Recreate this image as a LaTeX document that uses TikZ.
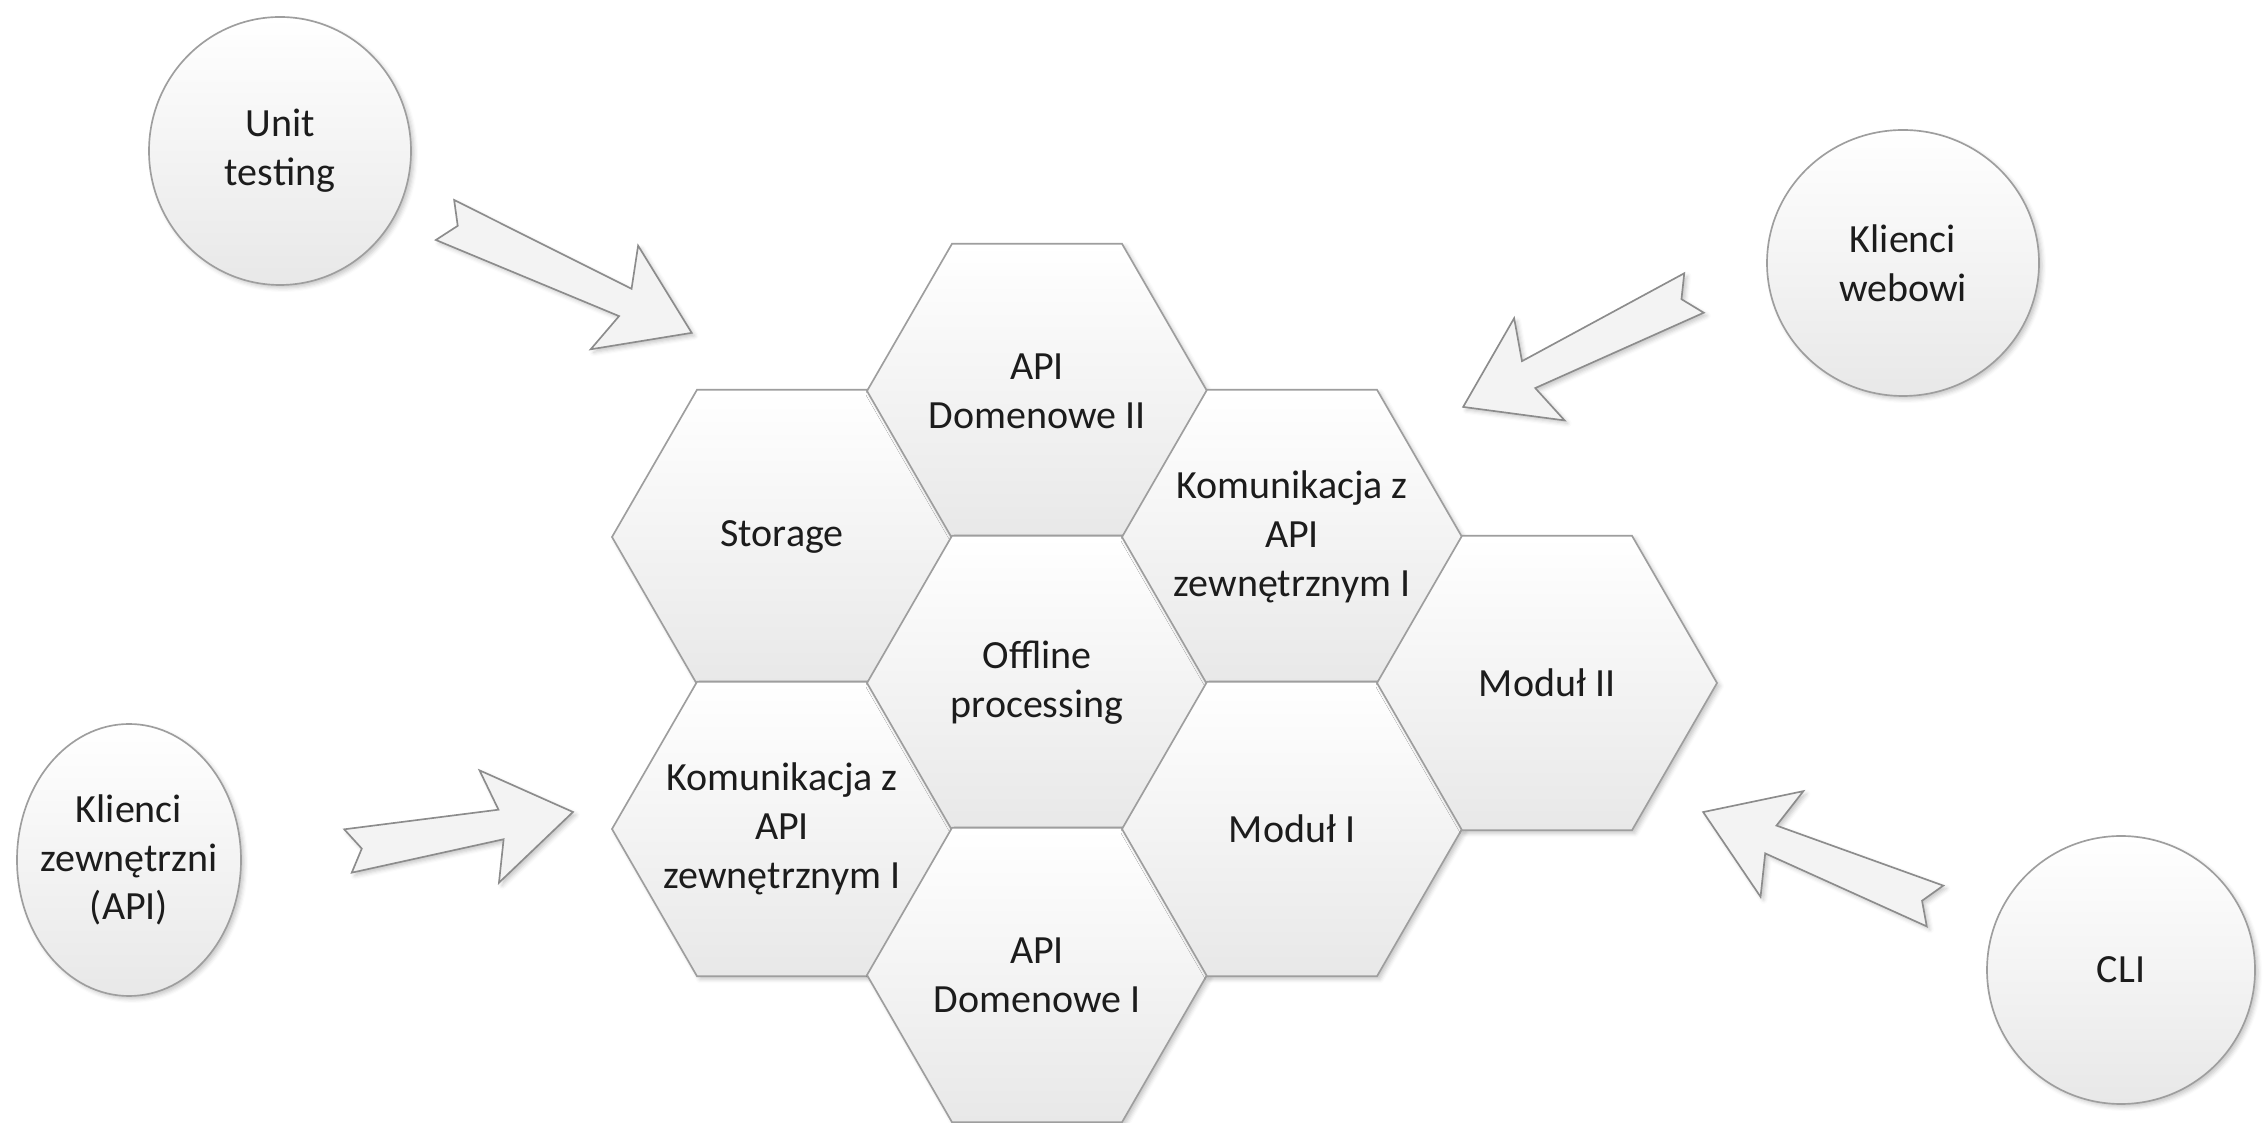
\documentclass[tikz,border=0pt]{standalone}
\usepackage{fontspec}
\setmainfont{Carlito}
\usetikzlibrary{shapes.geometric,shadows.blur,calc}

\definecolor{edgegray}{HTML}{9E9E9E}
\definecolor{cellbottom}{HTML}{E8E8E8}
\definecolor{inkgray}{HTML}{1C1C1C}
\definecolor{arrowfill}{HTML}{F3F3F3}
\definecolor{arrowedge}{HTML}{8C8C8C}

\tikzset{
  softshadow/.style={blur shadow={shadow xshift=0.9pt, shadow yshift=-0.9pt,
      shadow blur radius=1.2pt, shadow opacity=22}},
  labeltext/.style={align=center, text=inkgray, inner sep=0pt,
      font=\fontsize{12}{14.6}\selectfont},
  hexcell/.style={regular polygon, regular polygon sides=6, minimum size=102pt,
      inner sep=0pt, draw=edgegray, line width=0.5pt,
      top color=white, bottom color=cellbottom, softshadow},
  actor/.style={ellipse, inner sep=0pt, draw=edgegray, line width=0.5pt,
      top color=white, bottom color=cellbottom, softshadow},
  blockarrow/.style={draw=arrowedge, fill=arrowfill, line width=0.5pt,
      line join=miter, softshadow},
}

% notched, slightly tapered block arrow from a tail point to a tip point
\newcommand\notchedarrow[2]{%
  \path (#1); \pgfgetlastxy{\nax}{\nay}%
  \path (#2); \pgfgetlastxy{\nbx}{\nby}%
  \pgfmathsetmacro\naang{atan2((\nby)-(\nay),(\nbx)-(\nax))}%
  \pgfmathsetmacro\nalen{veclen((\nbx)-(\nax),(\nby)-(\nay))/0.3}%
  \begin{scope}[shift={(\nax,\nay)}, rotate=\naang]
    \draw[blockarrow] (0,22) -- (\nalen-73,15) -- (\nalen-85,57) -- (\nalen,0)
      -- (\nalen-85,-57) -- (\nalen-73,-15) -- (0,-22) -- (14,0) -- cycle;
  \end{scope}}

\begin{document}
\begin{tikzpicture}[x=0.3pt, y=-0.3pt]
\useasboundingbox (0,0) rectangle (2263,1123);

% honeycomb of components (cells first, captions on top)
\node[hexcell] (storage) at (782,537)  {};
\node[hexcell] (komL)    at (782,829)  {};
\node[hexcell] (apiII)   at (1037,391) {};
\node[hexcell] (offline) at (1037,683) {};
\node[hexcell] (apiI)    at (1037,975) {};
\node[hexcell] (komU)    at (1292,537) {};
\node[hexcell] (modI)    at (1292,829) {};
\node[hexcell] (modII)   at (1547,683) {};

\node[labeltext] (storage-t) at (storage.center) {Storage};
\node[labeltext] (komL-t)    at (komL.center)    {Komunikacja z\\API\\zewnętrznym I};
\node[labeltext] (apiII-t)   at (apiII.center)   {API\\Domenowe II};
\node[labeltext] (offline-t) at (offline.center) {Offline\\processing};
\node[labeltext] (apiI-t)    at (apiI.center)    {API\\Domenowe I};
\node[labeltext] (komU-t)    at (komU.center)    {Komunikacja z\\API\\zewnętrznym I};
\node[labeltext] (modI-t)    at (modI.center)    {Moduł I};
\node[labeltext] (modII-t)   at (modII.center)   {Moduł II};

% outside actors
\node[actor, minimum width=78.6pt, minimum height=80.4pt] (unit) at (280,151) {};
\node[labeltext] (unit-t) at (unit.center) {Unit\\testing};
\node[actor, minimum width=81.6pt, minimum height=79.8pt] (web) at (1903,263) {};
\node[labeltext] (web-t) at (web.center) {Klienci\\webowi};
\node[actor, minimum width=67.2pt, minimum height=81.6pt] (ext) at (129,860) {};
\node[labeltext] (ext-t) at (ext.center) {Klienci\\zewnętrzni\\(API)};
\node[actor, minimum width=80.4pt, minimum height=80.4pt] (cli) at (2121,970) {};
\node[labeltext] (cli-t) at (cli.center) {CLI};

% arrow ends
\coordinate (unit-a) at (445,220);  \coordinate (unit-b) at (692,333);
\coordinate (web-a)  at (1694,293); \coordinate (web-b)  at (1463,407);
\coordinate (ext-a)  at (348,851);  \coordinate (ext-b)  at (573,812);
\coordinate (cli-a)  at (1935,906); \coordinate (cli-b)  at (1703,812);

\notchedarrow{unit-a}{unit-b}
\notchedarrow{web-a}{web-b}
\notchedarrow{ext-a}{ext-b}
\notchedarrow{cli-a}{cli-b}
\end{tikzpicture}
\end{document}
